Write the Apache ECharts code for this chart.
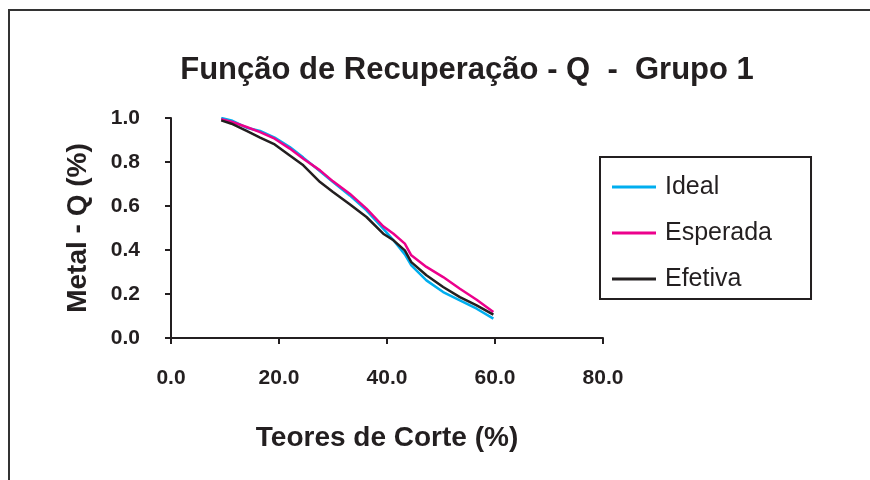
<!DOCTYPE html>
<html>
<head>
<meta charset="utf-8">
<script src="https://cdn.jsdelivr.net/npm/echarts@6/dist/echarts.min.js"></script>
<style>
html,body{margin:0;padding:0;background:#fff;}
#frame{position:absolute;left:0;top:0;width:870px;height:480px;}
#border{position:absolute;left:8px;top:9px;width:862px;height:471px;border-left:2px solid #333;border-top:2px solid #333;box-sizing:border-box;pointer-events:none;}
#chart{position:absolute;left:0;top:0;width:870px;height:480px;}
</style>
</head>
<body>
<div id="frame"><div id="chart"></div><div id="border"></div></div>
<script>
const titleText = 'Função de Recuperação - Q  -  Grupo 1';
const xAxisTitle = 'Teores de Corte (%)';
const yAxisTitle = 'Metal - Q (%)';
const seriesNames = ['Ideal', 'Esperada', 'Efetiva'];
const grades = [9.3, 11.2, 14.0, 16.5, 19.2, 22.0, 24.5, 27.6, 30.0, 33.1, 36.2, 39.3, 41.2, 43.3, 44.5, 47.3, 50.4, 53.5, 56.6, 59.7];
const ideal    = [1.000, 0.989, 0.956, 0.941, 0.911, 0.868, 0.820, 0.758, 0.709, 0.648, 0.580, 0.497, 0.444, 0.380, 0.330, 0.262, 0.209, 0.171, 0.133, 0.088];
const esperada = [0.994, 0.983, 0.959, 0.936, 0.906, 0.861, 0.815, 0.762, 0.712, 0.656, 0.588, 0.508, 0.474, 0.429, 0.376, 0.323, 0.277, 0.224, 0.174, 0.118];
const efetiva  = [0.989, 0.974, 0.941, 0.911, 0.880, 0.830, 0.785, 0.709, 0.664, 0.608, 0.550, 0.474, 0.444, 0.398, 0.345, 0.285, 0.232, 0.186, 0.148, 0.106];
const colors = ['#00AEEF', '#EC008C', '#231F20'];

const pairs = arr => grades.map((g, i) => [g, arr[i]]);
const txt = '#231F20';
const font = '"Liberation Sans", Arial, sans-serif';

const chart = echarts.init(document.getElementById('chart'), null, {renderer: 'canvas'});
chart.setOption({
  animation: false,
  backgroundColor: '#fff',
  textStyle: {fontFamily: font, color: txt},
  title: {
    text: titleText, left: 462, top: 50, textAlign: 'center',
    textStyle: {fontFamily: font, fontSize: 31, fontWeight: 'bold', color: txt}
  },
  grid: {left: 171, right: 267, top: 118, bottom: 142},
  legend: {
    orient: 'vertical', left: 600, top: 157,
    data: seriesNames,
    icon: 'rect', itemWidth: 44, itemHeight: 3, itemGap: 20,
    borderColor: '#231F20', borderWidth: 2,
    padding: [17, 39, 7, 12],
    textStyle: {fontFamily: font, fontSize: 25, color: txt, lineHeight: 26, padding: [0, 0, 0, 4]}
  },
  xAxis: {
    type: 'value', min: 0, max: 80, interval: 20,
    name: xAxisTitle, nameLocation: 'middle', nameGap: 86,
    nameTextStyle: {fontFamily: font, fontSize: 28, fontWeight: 'bold', color: txt},
    axisLine: {show: true, lineStyle: {color: txt, width: 2}},
    axisTick: {show: true, length: 6, lineStyle: {color: txt, width: 2}},
    axisLabel: {margin: 30, fontFamily: font, fontSize: 21, fontWeight: 'bold', color: txt, formatter: v => v.toFixed(1)},
    splitLine: {show: false}
  },
  yAxis: {
    type: 'value', min: 0, max: 1, interval: 0.2,
    name: yAxisTitle, nameLocation: 'middle', nameGap: 79, nameRotate: 90,
    nameTextStyle: {fontFamily: font, fontSize: 28, fontWeight: 'bold', color: txt},
    axisLine: {show: true, lineStyle: {color: txt, width: 2}},
    axisTick: {show: true, length: 6, lineStyle: {color: txt, width: 2}},
    axisLabel: {margin: 31, fontFamily: font, fontSize: 21, fontWeight: 'bold', color: txt, formatter: v => v.toFixed(1)},
    splitLine: {show: false}
  },
  series: [ideal, esperada, efetiva].map((arr, i) => ({
    name: seriesNames[i], type: 'line', data: pairs(arr),
    showSymbol: false, symbol: 'none',
    lineStyle: {color: colors[i], width: 2.5},
    itemStyle: {color: colors[i]}
  }))
});
</script>
</body>
</html>
